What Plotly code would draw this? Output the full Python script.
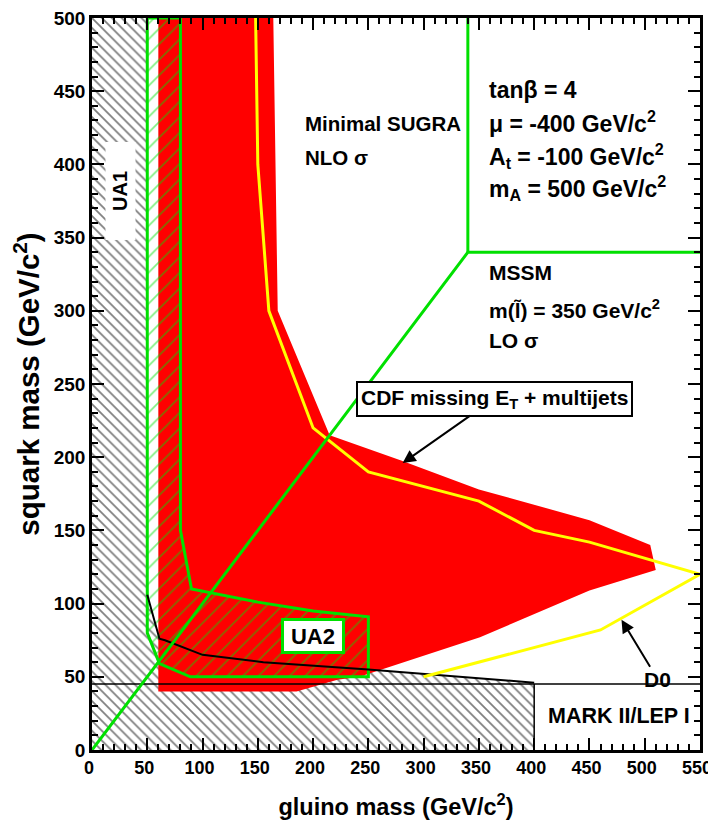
import plotly.graph_objects as go

# ---------------- data (GeV/c^2) ----------------
# UA1 + MARK II/LEP I excluded region (black hatch)
ua1_top_x = 50
bound_x = [50, 61, 66, 100, 155, 250, 400]
bound_y = [106, 76, 75, 65, 60, 55, 46]
markii_y = 45
markii_x_end = 400

# CDF missing ET + multijets excluded region (red)
cdf_x = [60, 60, 164, 168, 215, 279, 350, 450, 505, 510, 450, 351, 242, 222, 185]
cdf_y = [40, 500, 500, 300, 215, 198, 178, 157, 140, 123, 109, 77, 50, 48, 40]

# D0 contour (yellow)
d0_x = [148, 150, 160, 200, 250, 350, 400, 450, 550, 460, 300]
d0_y = [500, 400, 300, 220, 190, 170, 150, 142, 120, 82, 50]

# UA2 region (green hatch)
ua2_x = [50, 80, 80, 90, 150, 200, 250, 250, 89, 61, 50, 50]
ua2_y = [500, 500, 150, 110, 101, 95, 91, 50, 50, 59, 80, 500]

# squark = gluino diagonal & model separator (green)
diag_x = [0, 340, 550]
diag_y = [0, 340, 340]
sep_x = [340, 340]
sep_y = [340, 500]

x_ticks = list(range(0, 551, 50))
y_ticks = list(range(0, 501, 50))

FONT = "Liberation Sans, Arial, sans-serif"
GREEN = "#00e000"

fig = go.Figure()

# black hatched UA1 / MARK II region
fig.add_trace(go.Scatter(
    x=[0, 0, ua1_top_x] + bound_x + [markii_x_end],
    y=[0, 500, 500] + bound_y + [0],
    fill="toself", mode="lines", line=dict(width=0, color="black"),
    fillcolor="rgba(0,0,0,0)",
    fillpattern=dict(shape="\\", fgcolor="black", size=7, solidity=0.25),
    hoverinfo="skip", showlegend=False))

# red CDF region
fig.add_trace(go.Scatter(
    x=cdf_x, y=cdf_y, fill="toself", mode="lines",
    line=dict(width=0, color="#ff0000"), fillcolor="#ff0000",
    hoverinfo="skip", showlegend=False))

# UA2 green hatched region
fig.add_trace(go.Scatter(
    x=ua2_x, y=ua2_y, fill="toself", mode="lines",
    line=dict(width=3, color=GREEN), fillcolor="rgba(0,0,0,0)",
    fillpattern=dict(shape="/", fgcolor=GREEN, size=11, solidity=0.15),
    hoverinfo="skip", showlegend=False))

# black boundary curve
fig.add_trace(go.Scatter(
    x=bound_x, y=bound_y, mode="lines", line=dict(width=2, color="black"),
    hoverinfo="skip", showlegend=False))

# MARK II / LEP I lines
fig.add_trace(go.Scatter(
    x=[0, 550], y=[markii_y, markii_y], mode="lines",
    line=dict(width=1.5, color="black"), hoverinfo="skip", showlegend=False))
fig.add_trace(go.Scatter(
    x=[markii_x_end, markii_x_end], y=[0, markii_y], mode="lines",
    line=dict(width=1.5, color="black"), hoverinfo="skip", showlegend=False))

# yellow D0 line
fig.add_trace(go.Scatter(
    x=d0_x, y=d0_y, mode="lines", line=dict(width=3, color="#ffff00"),
    hoverinfo="skip", showlegend=False))

# green diagonal and separator
fig.add_trace(go.Scatter(
    x=diag_x, y=diag_y, mode="lines", line=dict(width=3, color=GREEN),
    hoverinfo="skip", showlegend=False))
fig.add_trace(go.Scatter(
    x=sep_x, y=sep_y, mode="lines", line=dict(width=3, color=GREEN),
    hoverinfo="skip", showlegend=False))

# ---------------- text ----------------
def tf(size):
    return dict(family=FONT, size=size, color="black", weight="bold")

left_texts = [
    ("Minimal SUGRA", 191, 428, 20.5),
    ("NLO σ", 191, 405, 20.5),
    ("tanβ = 4", 357, 451, 23),
    ("μ = -400 GeV/c<sup>2</sup>", 357, 429, 23),
    ("A<sub>t</sub> = -100 GeV/c<sup>2</sup>", 357, 406, 23),
    ("m<sub>A</sub> = 500 GeV/c<sup>2</sup>", 357, 384, 23),
    ("MSSM", 357, 326, 21),
    ("m(l\u0303) = 350 GeV/c<sup>2</sup>", 357, 301, 21),
    ("LO σ", 357, 280, 21),
]
for t, x, y, s in left_texts:
    fig.add_annotation(x=x, y=y, text=t, showarrow=False, xanchor="left",
                       yanchor="middle", font=tf(s))

fig.add_annotation(x=477, y=23, text="MARK II/LEP I", showarrow=False,
                   font=tf(21.5))

fig.add_annotation(x=26, y=382, text="UA1", showarrow=False, textangle=-90,
                   bgcolor="white", width=95, height=27, font=tf(20))

fig.add_annotation(x=200, y=78, text="UA2", showarrow=False,
                   bgcolor="white", bordercolor=GREEN, borderwidth=3,
                   width=56, height=28, font=tf(22))

fig.add_annotation(x=281, y=196, ax=364, ay=240, axref="x", ayref="y",
                   text="CDF missing E<sub>T</sub> + multijets",
                   showarrow=True, arrowhead=2, arrowsize=1.3, arrowwidth=2,
                   arrowcolor="black", bgcolor="white", bordercolor="black",
                   borderwidth=2, borderpad=3, font=tf(21))

fig.add_annotation(x=479, y=89, ax=512, ay=48, axref="x", ayref="y",
                   text="D0", showarrow=True, arrowhead=2, arrowsize=1.3,
                   arrowwidth=2, arrowcolor="black", font=tf(21))

axis_common = dict(
    showline=True, linecolor="black", linewidth=2.5, mirror="allticks",
    ticks="inside", ticklen=12, tickwidth=2, tickcolor="black",
    showgrid=False, zeroline=False, automargin=False,
    ticklabeloverflow="allow",
    minor=dict(ticks="inside", ticklen=6, tickwidth=1.5, dtick=10,
               tickcolor="black", showgrid=False),
)

# page body has an 8px margin, so the figure is sized/margined to compensate
fig.update_layout(
    width=708, height=812,
    margin=dict(l=84, r=16, t=10, b=70),
    plot_bgcolor="white", paper_bgcolor="white",
    xaxis=dict(range=[0, 550], tickvals=x_ticks, **axis_common,
               tickfont=tf(18), ticklabelshift=-3,
               title=dict(text="gluino mass (GeV/c<sup>2</sup>)", standoff=22,
                          font=tf(23.5))),
    yaxis=dict(range=[0, 500], tickvals=y_ticks, **axis_common,
               tickfont=tf(19),
               title=dict(text="squark mass (GeV/c<sup>2</sup>)", standoff=10,
                          font=tf(29.5))),
)

fig.write_html("out.html")
